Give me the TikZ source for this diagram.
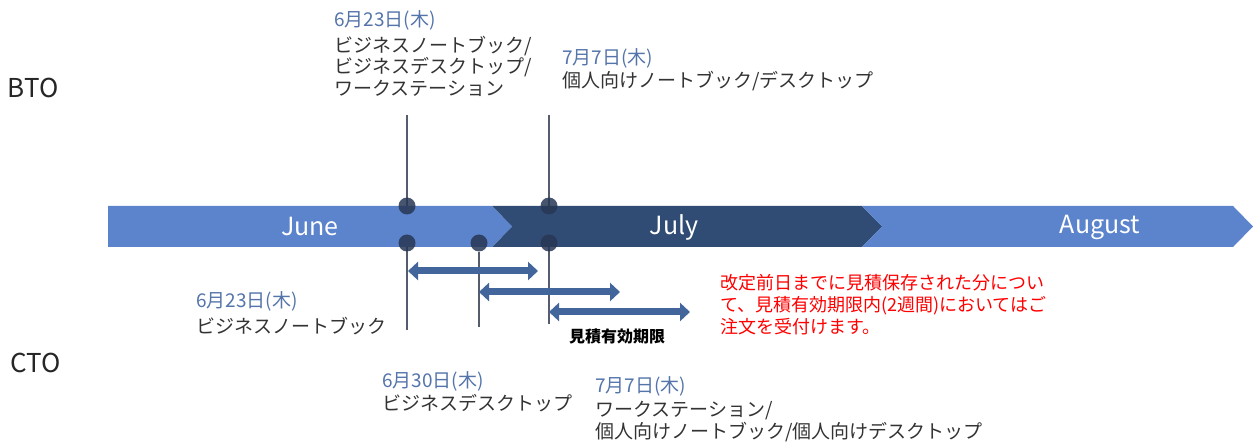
\documentclass[tikz,border=0pt]{standalone}
\usepackage{fontspec}
\setmainfont{Noto Sans CJK JP}
\usetikzlibrary{arrows.meta,positioning}
\definecolor{bandlight}{RGB}{91,132,204}
\definecolor{banddark}{RGB}{48,76,116}
\definecolor{dotcol}{RGB}{40,55,85}
\definecolor{datecol}{RGB}{84,116,170}
\definecolor{arrcol}{RGB}{66,102,155}
\definecolor{tickcol}{RGB}{85,92,110}
\tikzset{
  month/.style={text=white,font=\fontsize{25}{25}\selectfont},
  dot/.style={circle,fill=dotcol,fill opacity=0.85,minimum size=17pt,inner sep=0pt},
  tick/.style={draw=tickcol,line width=1.3pt},
  span/.style={arrcol,line width=7pt,{Triangle[width=18pt,length=10pt]}-{Triangle[width=18pt,length=10pt]}},
  datetext/.style={text=datecol,font=\fontsize{19}{21.5}\selectfont,inner sep=0pt,anchor=north west},
  jtext/.style={text=black!80,font=\fontsize{19}{21.5}\selectfont,align=left,inner sep=0pt,anchor=north west},
  kind/.style={text=black!85,font=\fontsize{26}{26}\selectfont,inner sep=0pt}
}
\begin{document}
\begin{tikzpicture}[x=1pt,y=-1pt]
  \useasboundingbox (0,0) rectangle (1255,443);
  % BTO / CTO
  \node[kind] (bto) at (33,88) {BTO};
  \node[kind] (cto) at (36,363) {CTO};
  % tick lines (behind the band)
  \coordinate (topA) at (407,115);
  \coordinate (topB) at (549,115);
  \coordinate (botA) at (407,330);
  \coordinate (botB) at (549,324);
  \coordinate (botC) at (479,327);
  \draw[tick] (topA) -- (botA);
  \draw[tick] (topB) -- (botB);
  % month band
  \fill[banddark] (492,206) -- (862,206) -- (882,226.5) -- (862,247) -- (492,247) -- (512,226.5) -- cycle;
  \fill[bandlight] (108,206) -- (492,206) -- (512,226.5) -- (492,247) -- (108,247) -- cycle;
  \fill[bandlight] (862,206) -- (1233,206) -- (1253,226.5) -- (1233,247) -- (862,247) -- (882,226.5) -- cycle;
  \node[month] (june) at (310,227) {June};
  \node[month] (july) at (674,227) {July};
  \node[month] (aug) at (1100,227) {August};
  % dots
  \node[dot] (bA) at (407,206) {};
  \node[dot] (bB) at (549,206) {};
  \node[dot] (cA) at (407,243) {};
  \node[dot] (cC) at (479,243) {};
  \node[dot] (cB) at (549,243) {};
  \draw[tick] (cC) -- (botC);
  % validity spans
  \coordinate (sA1) at (408,271);  \coordinate (sA2) at (538,271);
  \coordinate (sC1) at (479,292);  \coordinate (sC2) at (620,292);
  \coordinate (sB1) at (549,312);  \coordinate (sB2) at (690,312);
  \draw[span] (sA1) -- (sA2);
  \draw[span] (sC1) -- (sC2);
  \draw[span] (sB1) -- (sB2);
  \node[font=\bfseries\fontsize{16}{16}\selectfont,inner sep=0pt] (valid) at (617,336) {見積有効期限};
  % BTO labels
  \node[datetext] (dA) at (334,10) {6月23日(木)};
  \node[jtext] (tA) at (334,36) {ビジネスノートブック/\\ビジネスデスクトップ/\\ワークステーション};
  \node[datetext] (dB) at (562,48) {7月7日(木)};
  \node[jtext] (tB) at (562,71) {個人向けノートブック/デスクトップ};
  % CTO labels
  \node[datetext] (dC) at (196,291) {6月23日(木)};
  \node[jtext] (tC) at (196,317) {ビジネスノートブック};
  \node[datetext] (dD) at (382,371) {6月30日(木)};
  \node[jtext] (tD) at (382,394) {ビジネスデスクトップ};
  \node[datetext] (dE) at (595,376) {7月7日(木)};
  \node[jtext] (tE) at (595,401) {ワークステーション/\\個人向けノートブック/個人向けデスクトップ};
  % note
  \node[jtext,text=red,font=\fontsize{18}{22}\selectfont] (note) at (720,274) {改定前日までに見積保存された分につい\\て、見積有効期限内(2週間)においてはご\\注文を受付けます。};
\end{tikzpicture}
\end{document}
